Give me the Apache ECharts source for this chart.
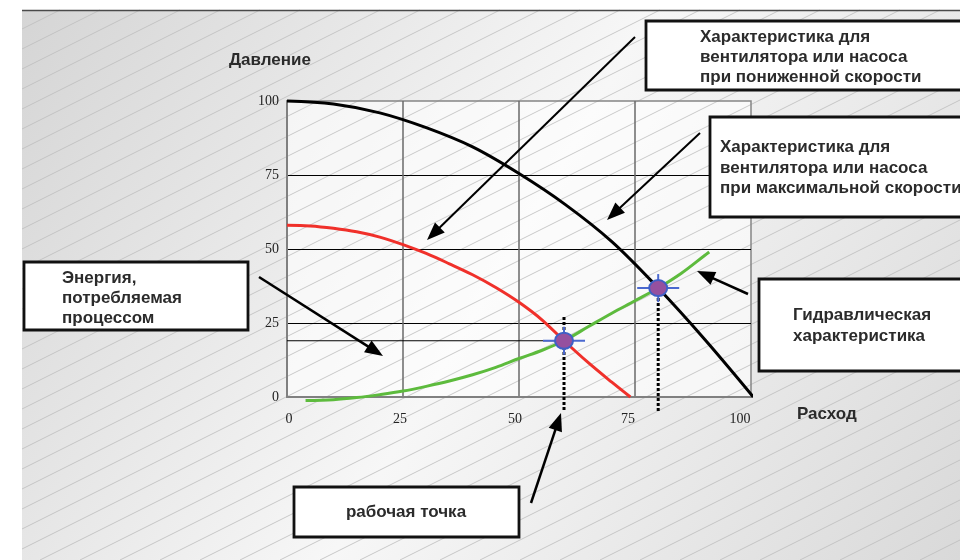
<!DOCTYPE html>
<html>
<head>
<meta charset="utf-8">
<script src="https://cdn.jsdelivr.net/npm/echarts@6/dist/echarts.min.js"></script>
<style>
  html, body { margin: 0; padding: 0; background: #ffffff; }
  #chart { width: 960px; height: 560px; }
</style>
</head>
<body>
<div id="chart"></div>
<script>
// Axis ticks (flow along x, pressure along y)
const xTicks = [0, 25, 50, 75, 100];
const yTicks = [0, 25, 50, 75, 100];

// Fan / pump curve at maximum speed
const maxSpeedCurve = [[0, 100], [10, 99], [20, 96], [30, 91], [40, 84.5], [50, 75.5],
  [60, 65], [70, 52.5], [80, 36.8], [90, 19.5], [100.5, 0]];

// Fan / pump curve at reduced speed
const reducedSpeedCurve = [[0, 58], [5, 57.8], [10, 57], [15, 55.8], [20, 54], [25, 51.5],
  [30, 48.5], [35, 45], [40, 41.3], [45, 37], [50, 32], [55, 26], [59.7, 19],
  [65, 11.5], [70, 5], [74, 0]];

// System (hydraulic) characteristic
const systemCurve = [[4, -1.2], [10, -0.9], [15, -0.2], [20, 0.8], [25, 2], [30, 3.6],
  [35, 5.4], [40, 7.5], [45, 10], [50, 13], [55, 15.8], [59.7, 19], [65, 23.8],
  [70, 28.3], [75, 32.5], [80, 36.8], [85, 41.8], [90, 47.8], [91, 49]];

// Operating points: reduced speed, maximum speed
const workPoints = [[59.7, 19], [80, 36.8]];

// Drop lines from the operating points to below the flow axis
const dropLineTops = [27, 36.8];
const dropLineBottom = -5;

const chart = echarts.init(document.getElementById('chart'), null, { renderer: 'canvas' });

const SANS = '"Liberation Sans", Arial, sans-serif';
const SERIF = '"Liberation Serif", "Times New Roman", serif';

const grid = { left: 287, top: 101, right: 209, bottom: 163 };
const plotW = 960 - grid.left - grid.right;
const plotH = 560 - grid.top - grid.bottom;

// ---- decorative backdrop ----
const graphics = [];
const bg = { x: 22, y: 10, w: 938, h: 550 };
graphics.push({
  type: 'rect', z: -30, silent: true,
  shape: { x: bg.x, y: bg.y, width: bg.w, height: bg.h },
  style: {
    fill: new echarts.graphic.LinearGradient(0, 0, 1, 1, [
      { offset: 0, color: '#d5d5d5' },
      { offset: 0.5, color: '#f7f7f7' },
      { offset: 1, color: '#d9d9d9' }
    ])
  }
});
graphics.push({
  type: 'rect', z: -29, silent: true,
  shape: { x: grid.left, y: grid.top, width: plotW, height: plotH },
  style: { fill: 'rgba(255,255,255,0.6)' }
});
// diagonal hatching
for (let c = 29; c < bg.y + bg.h + 470; c += 20) {
  let x1 = bg.x, y1 = c;
  if (y1 > bg.y + bg.h) { x1 = bg.x + 2 * (c - (bg.y + bg.h)); y1 = bg.y + bg.h; }
  let x2 = bg.x + bg.w, y2 = c - bg.w / 2;
  if (y2 < bg.y) { x2 = bg.x + 2 * (c - bg.y); y2 = bg.y; }
  if (x1 >= x2) continue;
  graphics.push({
    type: 'line', z: -28, silent: true,
    shape: { x1, y1, x2, y2 },
    style: { stroke: '#bcbcbc', lineWidth: 0.8 }
  });
}
graphics.push({
  type: 'line', z: -27, silent: true,
  shape: { x1: bg.x, y1: bg.y + 0.5, x2: bg.x + bg.w, y2: bg.y + 0.5 },
  style: { stroke: '#4a4a4a', lineWidth: 1.5 }
});

// ---- callouts ----
function box(x, y, w, h) {
  graphics.push({
    type: 'rect', z: 100, silent: true,
    shape: { x, y, width: w, height: h },
    style: { fill: '#ffffff', stroke: '#111111', lineWidth: 2.8 }
  });
}
function label(x, y, text, align) {
  graphics.push({
    type: 'text', z: 101, silent: true,
    x, y,
    style: {
      text, fill: '#2b2b2b', font: 'bold 17px ' + SANS,
      textAlign: align || 'left', textVerticalAlign: 'middle'
    }
  });
}
function arrow(tx, ty, hx, hy, lw) {
  const dx = hx - tx, dy = hy - ty;
  const len = Math.sqrt(dx * dx + dy * dy);
  const ux = dx / len, uy = dy / len;
  const headL = 18, headW = 7;
  const bx = hx - ux * headL, by = hy - uy * headL;
  graphics.push({
    type: 'line', z: 100, silent: true,
    shape: { x1: tx, y1: ty, x2: bx + ux * 2, y2: by + uy * 2 },
    style: { stroke: '#000000', lineWidth: lw }
  });
  graphics.push({
    type: 'polygon', z: 100, silent: true,
    shape: { points: [[hx, hy], [bx - uy * headW, by + ux * headW], [bx + uy * headW, by - ux * headW]] },
    style: { fill: '#000000' }
  });
}

label(229, 60, 'Давление');
label(797, 414, 'Расход');

box(646, 21, 340, 69);
label(700, 37, 'Характеристика для');
label(700, 57, 'вентилятора или насоса');
label(700, 77, 'при пониженной скорости');

box(710, 117, 300, 100);
label(720, 147, 'Характеристика для');
label(720, 168, 'вентилятора или насоса');
label(720, 188, 'при максимальной скорости');

box(24, 262, 224, 68);
label(62, 278, 'Энергия,');
label(62, 298, 'потребляемая');
label(62, 318, 'процессом');

box(759, 279, 240, 92);
label(793, 315, 'Гидравлическая');
label(793, 336, 'характеристика');

box(294, 487, 225, 50);
label(406, 512, 'рабочая точка', 'center');

arrow(635, 37, 427, 240, 2);
arrow(700, 133, 607, 220, 2);
arrow(259, 277, 383, 356, 2.5);
arrow(748, 294, 697, 271, 2.5);
arrow(531, 503, 561, 413, 2.5);

// ---- series ----
const series = [
  {
    type: 'line', data: maxSpeedCurve, smooth: 0.35, showSymbol: false, clip: false, z: 5,
    lineStyle: { color: '#000000', width: 3 }
  },
  {
    type: 'line', data: reducedSpeedCurve, smooth: 0.35, showSymbol: false, clip: false, z: 5,
    lineStyle: { color: '#f0302a', width: 3 }
  },
  {
    type: 'line', data: systemCurve, smooth: 0.35, showSymbol: false, clip: false, z: 5,
    lineStyle: { color: '#5dbb3d', width: 3 }
  },
  {
    // level of the reduced-speed operating point
    type: 'line', data: [[0, workPoints[0][1]], workPoints[0]], showSymbol: false, clip: false, z: 4,
    lineStyle: { color: '#000000', width: 1 }
  }
];
workPoints.forEach((p, i) => {
  series.push({
    type: 'line', data: [[p[0], dropLineTops[i]], [p[0], dropLineBottom]],
    showSymbol: false, clip: false, z: 6,
    lineStyle: { color: '#000000', width: 3, type: [3, 2] }
  });
});
series.push({
  type: 'custom', data: workPoints, z: 8, clip: false,
  renderItem: function (params, api) {
    const c = api.coord([api.value(0), api.value(1)]);
    return {
      type: 'group',
      children: [
        { type: 'line', shape: { x1: c[0] - 21, y1: c[1], x2: c[0] + 21, y2: c[1] }, style: { stroke: '#4a68cf', lineWidth: 2 } },
        { type: 'line', shape: { x1: c[0], y1: c[1] - 14, x2: c[0], y2: c[1] + 14 }, style: { stroke: '#4a68cf', lineWidth: 2 } },
        { type: 'ellipse', shape: { cx: c[0], cy: c[1], rx: 9, ry: 8 }, style: { fill: '#95509f', stroke: '#3f5fc6', lineWidth: 2 } }
      ]
    };
  }
});

// small per-label nudges of the flow-axis numbers
const xLabelShift = { 0: 2, 25: -3, 50: -4, 75: -7, 100: -11 };
const xRich = {};
xTicks.forEach(t => {
  const s = xLabelShift[t];
  xRich['t' + t] = {
    fontFamily: SERIF, fontSize: 14, color: '#222',
    padding: s >= 0 ? [0, 0, 0, 2 * s] : [0, -2 * s, 0, 0]
  };
});

chart.setOption({
  animation: false,
  backgroundColor: '#ffffff',
  grid: {
    left: grid.left, top: grid.top, right: grid.right, bottom: grid.bottom,
    show: true, borderColor: '#858585', borderWidth: 1.5, backgroundColor: 'transparent'
  },
  xAxis: {
    type: 'value', min: xTicks[0], max: xTicks[xTicks.length - 1],
    interval: xTicks[1] - xTicks[0],
    axisLine: { show: true, lineStyle: { color: '#808080', width: 2 } },
    axisTick: { show: false },
    axisLabel: {
      color: '#222', fontFamily: SERIF, fontSize: 14, margin: 15,
      formatter: v => '{t' + v + '|' + v + '}', rich: xRich
    },
    splitLine: { show: true, showMinLine: false, showMaxLine: false, lineStyle: { color: '#6a6a6a', width: 1.5 } }
  },
  yAxis: {
    type: 'value', min: yTicks[0], max: yTicks[yTicks.length - 1],
    interval: yTicks[1] - yTicks[0],
    axisLine: { show: true, lineStyle: { color: '#808080', width: 2 } },
    axisTick: { show: false },
    axisLabel: { color: '#222', fontFamily: SERIF, fontSize: 14, margin: 8 },
    splitLine: { show: true, showMinLine: false, showMaxLine: false, lineStyle: { color: '#000000', width: 1 } }
  },
  graphic: graphics,
  series
});
</script>
</body>
</html>
